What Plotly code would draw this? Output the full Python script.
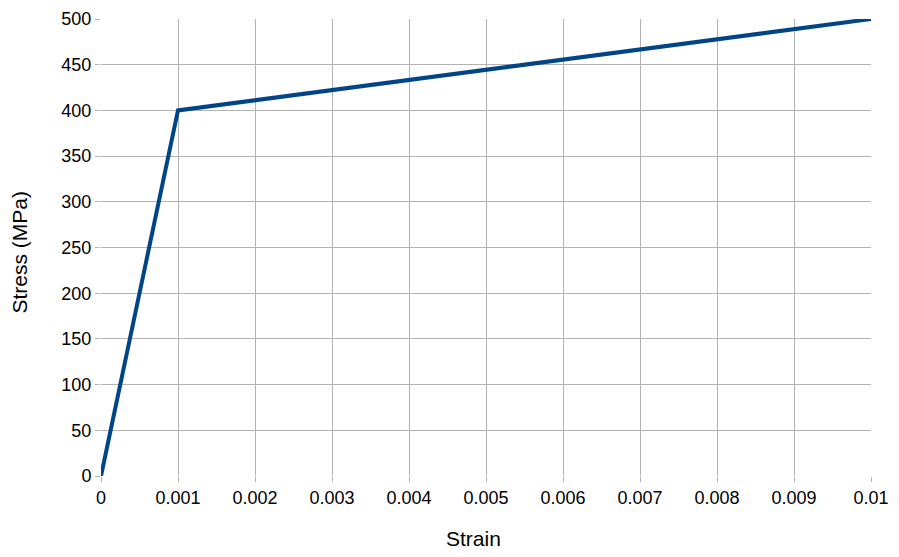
import plotly.graph_objects as go

strain = [0, 0.001, 0.01]
stress = [0, 400, 500]

x_tickvals = [0, 0.001, 0.002, 0.003, 0.004, 0.005, 0.006, 0.007, 0.008, 0.009, 0.01]
x_ticktext = ["0", "0.001", "0.002", "0.003", "0.004", "0.005", "0.006", "0.007", "0.008", "0.009", "0.01"]
y_tickvals = [0, 50, 100, 150, 200, 250, 300, 350, 400, 450, 500]
x_title = "Strain"
y_title = "Stress (MPa)"

fig = go.Figure()
fig.add_trace(go.Scatter(x=strain, y=stress, mode="lines",
                         line=dict(color="#004586", width=4), cliponaxis=False))

axis_common = dict(showgrid=True, gridcolor="#b3b3b3", gridwidth=1,
                   showline=False, automargin=False,
                   ticks="outside", ticklen=5, tickcolor="#b3b3b3",
                   zeroline=False, tickfont=dict(size=18, color="#000000"))

fig.update_layout(
    width=891, height=549,
    margin=dict(l=93, r=28, t=11, b=81),
    paper_bgcolor="white", plot_bgcolor="white",
    font=dict(family="Liberation Sans, Arial, sans-serif", size=18, color="#000000"),
    showlegend=False,
    xaxis=dict(range=[0, 0.01], tickvals=x_tickvals, ticktext=x_ticktext, **axis_common),
    yaxis=dict(range=[0, 500], tickvals=y_tickvals, **axis_common),
)

fig.add_annotation(text=x_title, xref="paper", yref="paper", x=0.4838, y=0,
                   xanchor="center", yanchor="middle", yshift=-62, showarrow=False,
                   font=dict(size=21, color="#000000"))
fig.add_annotation(text=y_title, xref="paper", yref="paper", x=0, y=0.489,
                   xanchor="center", yanchor="middle", xshift=-81, textangle=-90,
                   showarrow=False, font=dict(size=21, color="#000000"))

fig.write_html("out.html")
